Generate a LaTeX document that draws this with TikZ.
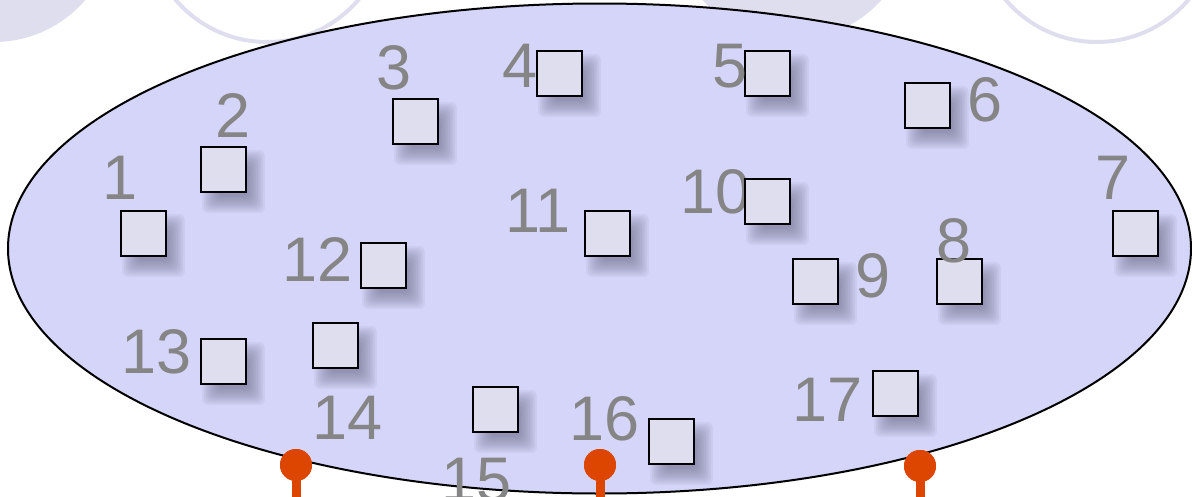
\documentclass[tikz,border=0pt]{standalone}
\usepackage{fontspec}
\setmainfont{Liberation Sans}
\definecolor{bgc}{RGB}{222,222,238}
\definecolor{ellc}{RGB}{213,213,250}
\definecolor{boxc}{RGB}{222,222,238}
\definecolor{labc}{RGB}{133,133,133}
\definecolor{pinc}{RGB}{221,70,0}
\definecolor{shc}{RGB}{95,95,120}
\tikzset{
  sq/.style={draw=black, line width=2.2pt, fill=boxc, minimum size=45pt, inner sep=0pt},
  shlayer/.style={fill=shc, fill opacity=0.07, rounded corners=6pt},
  lab/.style={text=labc, inner sep=0pt, font=\fontsize{63}{63}\selectfont},
  pinhead/.style={circle, fill=pinc, minimum size=32pt, inner sep=0pt},
  pinstem/.style={draw=pinc, line width=9pt},
  bgdisk/.style={fill=bgc},
  bgring/.style={draw=bgc, line width=4pt}
}
\begin{document}
\begin{tikzpicture}[x=1pt,y=-1pt]
\useasboundingbox (0,0) rectangle (1192,496);
\clip (0,0) rectangle (1192,496);
% background circles
\fill[bgdisk] (-6,-78) circle [radius=120pt];
\draw[bgring] (267,-78) circle [radius=120pt];
\fill[bgdisk] (792,-80) circle [radius=120pt];
\draw[bgring] (1097,-78) circle [radius=120pt];
% ellipse
\draw[line width=2pt, fill=ellc] (599.5,248.5) ellipse [x radius=591.5pt, y radius=245pt];
% pins
\coordinate (s1) at (296,500);
\coordinate (s2) at (600,500);
\coordinate (s3) at (920,500);
\node[pinhead] (p1) at (296,465) {};
\node[pinhead] (p2) at (600,465) {};
\node[pinhead] (p3) at (920,466) {};
\draw[pinstem] (p1.center) -- (s1);
\draw[pinstem] (p2.center) -- (s2);
\draw[pinstem] (p3.center) -- (s3);
\node[pinhead] at (p1) {};
\node[pinhead] at (p2) {};
\node[pinhead] at (p3) {};
% soft shadows of the squares
\foreach \x/\y in {143.5/233.5, 223.5/169.5, 415.5/121.5, 559.5/73.5, 767.5/73.5,
  927.5/105.5, 1135.5/233.5, 959.5/281.5, 815.5/281.5, 767.5/201.5, 607.5/233.5, 383.5/265.5,
  223.5/361.5, 335.5/345.5, 495.5/409.5, 671.5/441.5, 895.5/393.5}{
  \foreach \k in {0,...,9}{
    \pgfmathsetmacro{\h}{31.5-1.8*\k}
    \fill[shlayer] (\x+10-\h,\y+12-\h) rectangle (\x+10+\h,\y+12+\h);
  }
}
% labels drawn beneath squares
\node[lab] (l10) at (716,192) {10};
% squares
\node[sq] (n1) at (143.5,233.5) {};
\node[sq] (n2) at (223.5,169.5) {};
\node[sq] (n3) at (415.5,121.5) {};
\node[sq] (n4) at (559.5,73.5) {};
\node[sq] (n5) at (767.5,73.5) {};
\node[sq] (n6) at (927.5,105.5) {};
\node[sq] (n7) at (1135.5,233.5) {};
\node[sq] (n8) at (959.5,281.5) {};
\node[sq] (n9) at (815.5,281.5) {};
\node[sq] (n10) at (767.5,201.5) {};
\node[sq] (n11) at (607.5,233.5) {};
\node[sq] (n12) at (383.5,265.5) {};
\node[sq] (n13) at (223.5,361.5) {};
\node[sq] (n14) at (335.5,345.5) {};
\node[sq] (n15) at (495.5,409.5) {};
\node[sq] (n16) at (671.5,441.5) {};
\node[sq] (n17) at (895.5,393.5) {};
% labels
\node[lab] (l1) at (120,178) {1};
\node[lab] (l2) at (233,116) {2};
\node[lab] (l3) at (394,68) {3};
\node[lab] (l4) at (520,66) {4};
\node[lab] (l5) at (730,66) {5};
\node[lab] (l6) at (985,100) {6};
\node[lab] (l7) at (1113,178) {7};
\node[lab] (l8) at (954,241) {8};
\node[lab] (l9) at (873,276) {9};
\node[lab] (l11) at (538,211) {11};
\node[lab] (l12) at (318,259) {12};
\node[lab] (l13) at (157,352) {13};
\node[lab] (l14) at (348,418) {14};
\node[lab] (l15) at (477,480) {15};
\node[lab] (l16) at (605,419) {16};
\node[lab] (l17) at (828,400) {17};
\end{tikzpicture}
\end{document}
